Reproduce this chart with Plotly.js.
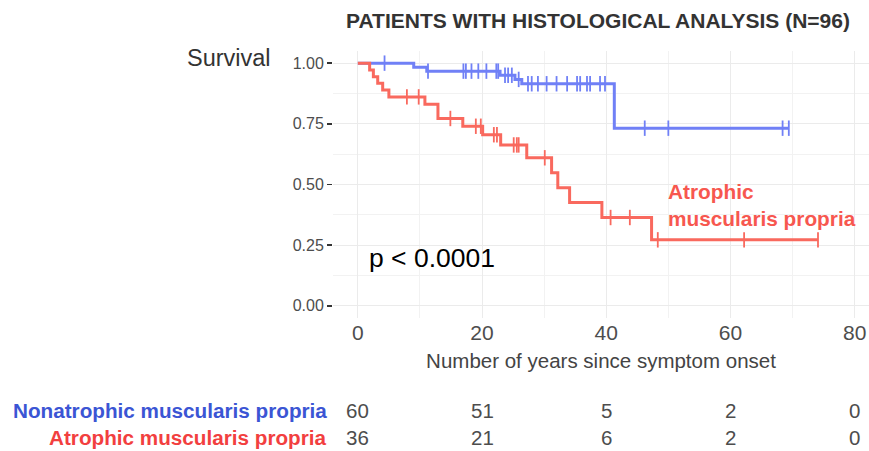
<!DOCTYPE html>
<html><head><meta charset="utf-8">
<script src="https://cdn.plot.ly/plotly-3.0.1.min.js"></script>
<style>html,body{margin:0;padding:0;background:#fff}#chart{width:869px;height:451px}</style>
</head><body><div id="chart"></div>
<script>
// ---- data ----
const groupNames = ["Nonatrophic muscularis propria", "Atrophic muscularis propria"];

const blueEventTimes = [9.0, 11.1, 22.9, 25.3, 26.4, 41.3];
const blueEventSurv  = [0.983, 0.967, 0.950, 0.933, 0.915, 0.732];
const blueCensorTimes = [4.3, 11.3, 17.0, 17.4, 18.3, 19.4, 20.7, 22.3, 22.6, 23.7, 24.2, 24.8, 25.9,
  27.4, 28.0, 29.0, 30.4, 32.0, 33.7, 35.3, 35.8, 36.9, 37.4, 39.0, 39.8, 46.2, 50.0, 68.4, 69.4];

const redEventTimes = [1.9, 2.5, 3.2, 4.0, 5.0, 10.8, 12.9, 16.9, 20.1, 23.0, 27.2, 31.2, 32.2, 34.1, 39.3, 47.3];
const redEventSurv  = [0.972, 0.944, 0.917, 0.889, 0.861, 0.831, 0.772, 0.740, 0.705, 0.663, 0.610, 0.548, 0.487, 0.426, 0.364, 0.272];
const redCensorTimes = [7.9, 9.8, 14.9, 19.0, 19.8, 21.9, 22.4, 25.1, 25.6, 25.9, 30.1, 40.7, 43.8, 48.3, 62.2, 74.1];

const riskTimes = [0, 20, 40, 60, 80];
const riskBlue = [60, 51, 5, 2, 0];
const riskRed  = [36, 21, 6, 2, 0];

const xTickVals = [0, 20, 40, 60, 80];
const xMinorVals = [10, 30, 50, 70];
const yTickVals = [0, 0.25, 0.5, 0.75, 1];
const yTickText = ["0.00", "0.25", "0.50", "0.75", "1.00"];
const yMinorVals = [0.125, 0.375, 0.625, 0.875];

// ---- helpers ----
function stepPath(times, surv, cens) {
  const x = [0], y = [1];
  times.forEach((t, i) => { x.push(t); y.push(surv[i]); });
  const end = Math.max(...times, ...cens);
  x.push(end); y.push(surv[surv.length - 1]);
  return {x, y};
}
function survAt(times, surv, t) {
  let s = 1;
  times.forEach((tt, i) => { if (tt <= t) s = surv[i]; });
  return s;
}

const BLUE = '#7080F6', RED = '#F9695E';
const FONT = 'Liberation Sans, Arial, Helvetica, sans-serif';

const bPath = stepPath(blueEventTimes, blueEventSurv, blueCensorTimes);
const rPath = stepPath(redEventTimes, redEventSurv, redCensorTimes);

const traces = [
  {x: bPath.x, y: bPath.y, mode: 'lines', line: {shape: 'hv', color: BLUE, width: 3}, name: groupNames[0], hoverinfo: 'skip'},
  {x: blueCensorTimes, y: blueCensorTimes.map(t => survAt(blueEventTimes, blueEventSurv, t)), mode: 'markers',
   marker: {symbol: 'line-ns-open', size: 11, color: BLUE, line: {color: BLUE, width: 1.8}}, hoverinfo: 'skip'},
  {x: rPath.x, y: rPath.y, mode: 'lines', line: {shape: 'hv', color: RED, width: 3}, name: groupNames[1], hoverinfo: 'skip'},
  {x: redCensorTimes, y: redCensorTimes.map(t => survAt(redEventTimes, redEventSurv, t)), mode: 'markers',
   marker: {symbol: 'line-ns-open', size: 11, color: RED, line: {color: RED, width: 1.8}}, hoverinfo: 'skip'}
];

// plot area geometry in px
const PL = 333, PW = 536, PT = 51, PH = 267;
const pxX = px => (px - PL) / PW;
const pxY = py => (PT + PH - py) / PH;

const annotations = [
  {text: 'Survival', xref: 'paper', yref: 'paper', x: pxX(273), y: pxY(58), xanchor: 'right', yanchor: 'middle',
   showarrow: false, font: {family: FONT, size: 23.5, color: '#333333'}},
  {text: 'p < 0.0001', xref: 'x', yref: 'y', x: 1.4, y: 0.198, xanchor: 'left', yanchor: 'middle',
   showarrow: false, font: {family: FONT, size: 26.5, color: '#000000'}},
  {text: 'Atrophic<br>muscularis propria', xref: 'x', yref: 'y', x: 49.6, y: 0.415, xanchor: 'left', yanchor: 'middle',
   align: 'left', showarrow: false, font: {family: FONT, size: 20.8, color: '#F7574F', weight: 'bold'}},
  {text: groupNames[0], xref: 'paper', yref: 'paper', x: pxX(329), y: pxY(410), xanchor: 'right', yanchor: 'middle',
   showarrow: false, font: {family: FONT, size: 20.7, color: '#3B55D4', weight: 'bold'}},
  {text: groupNames[1], xref: 'paper', yref: 'paper', x: pxX(329), y: pxY(437), xanchor: 'right', yanchor: 'middle',
   showarrow: false, font: {family: FONT, size: 20.7, color: '#F23F3F', weight: 'bold'}}
];
riskTimes.forEach((t, i) => {
  annotations.push({text: String(riskBlue[i]), xref: 'x', yref: 'paper', x: t, y: pxY(410), xanchor: 'center', yanchor: 'middle',
    showarrow: false, font: {family: FONT, size: 20.5, color: '#4d4d4d'}});
  annotations.push({text: String(riskRed[i]), xref: 'x', yref: 'paper', x: t, y: pxY(437), xanchor: 'center', yanchor: 'middle',
    showarrow: false, font: {family: FONT, size: 20.5, color: '#4d4d4d'}});
});

const layout = {
  width: 869, height: 451,
  margin: {l: PL, r: 0, t: PT, b: 451 - PT - PH, pad: 0},
  paper_bgcolor: '#ffffff', plot_bgcolor: '#ffffff',
  showlegend: false,
  font: {family: FONT, color: '#4d4d4d'},
  title: {text: 'PATIENTS WITH HISTOLOGICAL ANALYSIS (N=96)', xref: 'container', yref: 'container',
          x: 598 / 869, y: 1 - 20.5 / 451, xanchor: 'center', yanchor: 'middle',
          font: {family: FONT, size: 21, color: '#333333', weight: 'bold'}},
  xaxis: {range: [-4, -4 + PW / 6.21], tickvals: xTickVals, showgrid: true, gridcolor: '#ebebeb', gridwidth: 1,
          minor: {tickvals: xMinorVals, showgrid: true, gridcolor: '#f2f2f2', gridwidth: 1},
          zeroline: false, showline: false, ticks: '', ticklabelstandoff: 0,
          tickfont: {family: FONT, size: 21, color: '#4d4d4d'},
          title: {text: 'Number of years since symptom onset', standoff: 10, font: {family: FONT, size: 20.5, color: '#444444'}}},
  yaxis: {range: [-0.05, 1.05], tickvals: yTickVals, ticktext: yTickText, showgrid: true, gridcolor: '#ebebeb', gridwidth: 1,
          minor: {tickvals: yMinorVals, showgrid: true, gridcolor: '#f2f2f2', gridwidth: 1},
          zeroline: false, showline: false, ticks: 'outside', ticklen: 5, tickwidth: 1.4, tickcolor: '#333333',
          tickfont: {family: FONT, size: 16, color: '#4d4d4d'}},
  annotations: annotations
};

Plotly.newPlot('chart', traces, layout, {displayModeBar: false, staticPlot: true});
</script></body></html>
